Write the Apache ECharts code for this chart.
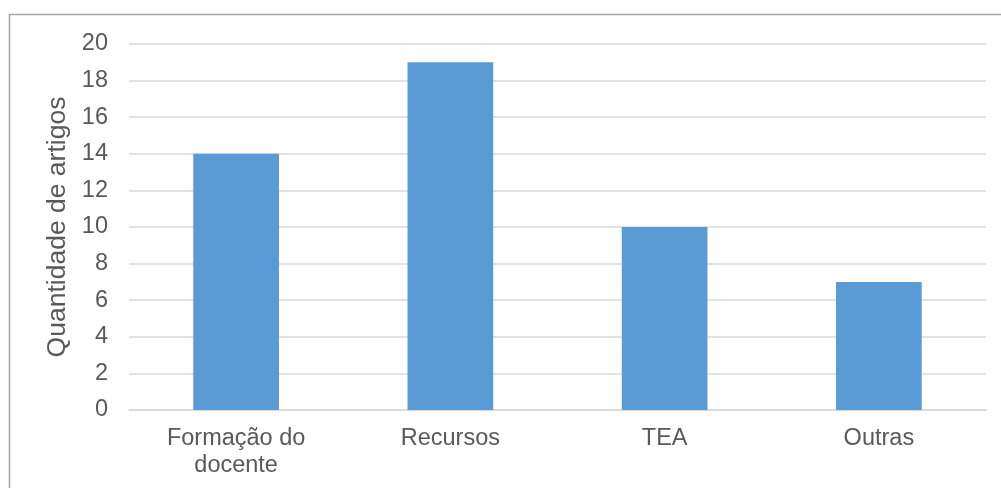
<!DOCTYPE html>
<html>
<head>
<meta charset="utf-8">
<script src="https://cdn.jsdelivr.net/npm/echarts@6/dist/echarts.min.js"></script>
<style>
  html, body { margin: 0; padding: 0; background: #ffffff; }
  #chart { width: 1001px; height: 488px; }
</style>
</head>
<body>
<div id="chart"></div>
<script>
// Number of articles per theme
const categories = ['Formação do\ndocente', 'Recursos', 'TEA', 'Outras'];
const articleCounts = [14, 19, 10, 7];
const yTicks = { min: 0, max: 20, interval: 2 };
const yTitle = 'Quantidade de artigos';

const chart = echarts.init(document.getElementById('chart'), null, { renderer: 'canvas' });

chart.setOption({
  backgroundColor: '#ffffff',
  animation: false,
  textStyle: { fontFamily: '"Liberation Sans", Arial, sans-serif' },
  graphic: [{
    type: 'rect',
    shape: { x: 9.5, y: 14.5, width: 1100, height: 600 },
    style: { fill: 'none', stroke: '#a6a6a6', lineWidth: 1.5 },
    silent: true,
    z: 0
  }],
  grid: { left: 129, right: 15, top: 44, bottom: 78, containLabel: false },
  xAxis: {
    type: 'category',
    data: categories,
    axisLine: { show: true, lineStyle: { color: '#d9d9d9', width: 1.5 } },
    axisTick: { show: false },
    axisLabel: {
      color: '#595959',
      fontSize: 23.5,
      lineHeight: 27,
      margin: 15,
      interval: 0
    }
  },
  yAxis: {
    type: 'value',
    min: yTicks.min,
    max: yTicks.max,
    interval: yTicks.interval,
    name: yTitle,
    nameLocation: 'middle',
    nameGap: 54,
    nameTextStyle: { color: '#595959', fontSize: 26.5 },
    axisLine: { show: false },
    axisTick: { show: false },
    axisLabel: { color: '#595959', fontSize: 23.5, margin: 21 },
    splitLine: { lineStyle: { color: '#d9d9d9', width: 1.5 } }
  },
  series: [{
    type: 'bar',
    data: articleCounts,
    barWidth: '40%',
    itemStyle: { color: '#5b9bd5' }
  }]
});
</script>
</body>
</html>
